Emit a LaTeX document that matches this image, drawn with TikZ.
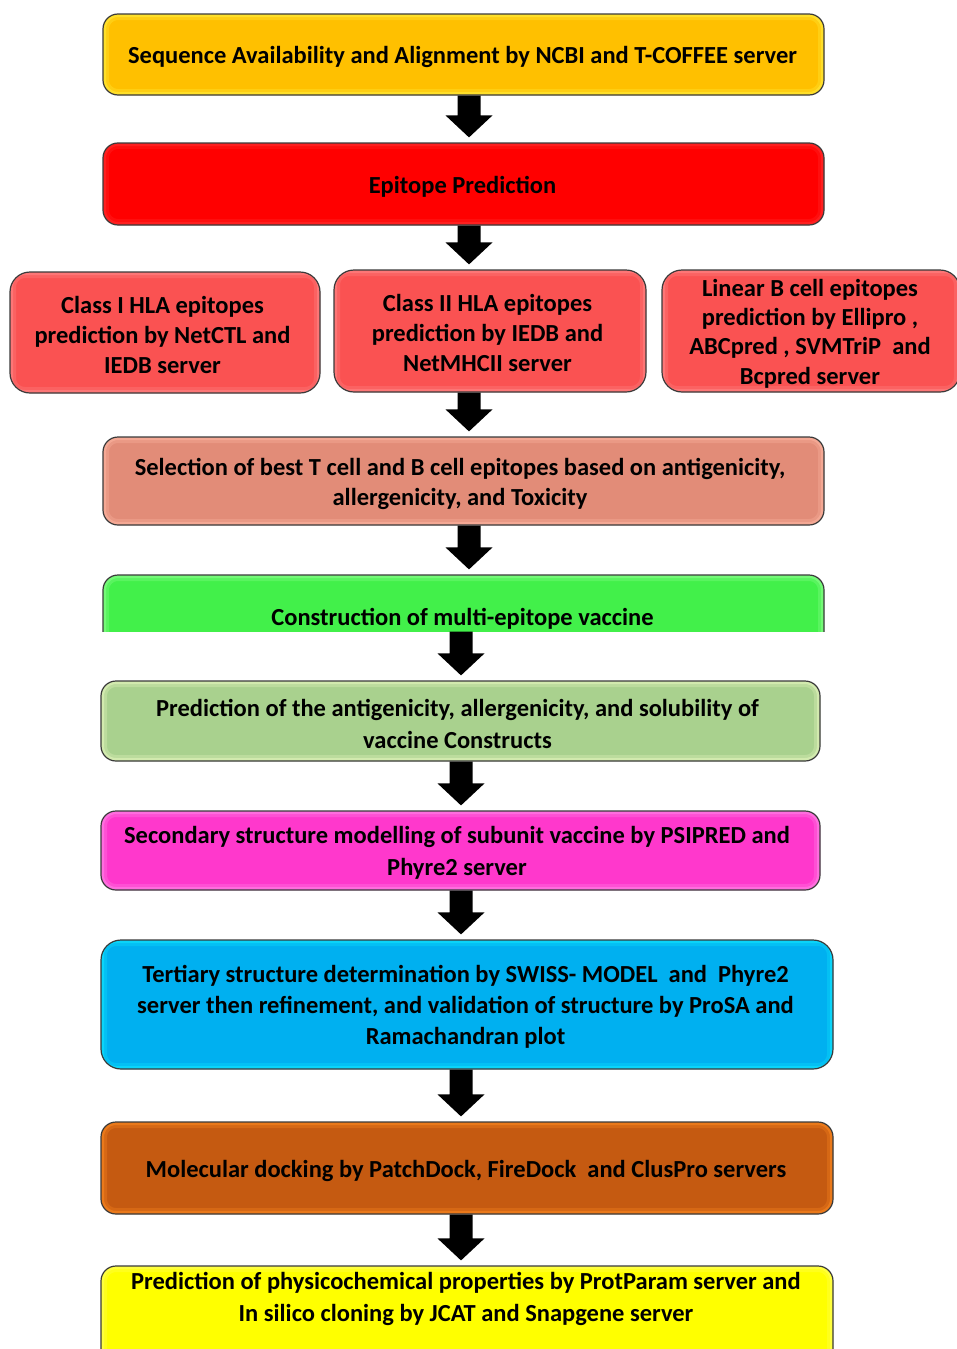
\documentclass[tikz,border=0pt]{standalone}
\usepackage{fontspec}
\setmainfont{Carlito}
\usetikzlibrary{calc}
\definecolor{edge}{HTML}{3A3A3A}
\definecolor{cgold}{HTML}{FFC000}
\definecolor{ggold}{HTML}{FFF040}
\definecolor{cred}{HTML}{FF0000}
\definecolor{gred}{HTML}{FF3030}
\definecolor{clred}{HTML}{FA5252}
\definecolor{glred}{HTML}{FF8A8A}
\definecolor{csalmon}{HTML}{E28C78}
\definecolor{gsalmon}{HTML}{FFB8A4}
\definecolor{cgreen}{HTML}{42F04A}
\definecolor{ggreen}{HTML}{90FF90}
\definecolor{clgreen}{HTML}{A9D18E}
\definecolor{glgreen}{HTML}{E8F8C0}
\definecolor{cmag}{HTML}{FF38CC}
\definecolor{gmag}{HTML}{FF8AE8}
\definecolor{cblue}{HTML}{00B0F0}
\definecolor{gblue}{HTML}{10E8FF}
\definecolor{cbrown}{HTML}{C55A11}
\definecolor{gbrown}{HTML}{FF8A20}
\definecolor{cyellow}{HTML}{FFFF00}
\definecolor{gyellow}{HTML}{FFFF60}
\newcommand\flowarrow[3]{%
  \fill[black] ($(#2 -| #1)+(-11.5pt,0)$) -- ($(#2 -| #1)+(11.5pt,0)$)
   -- ($(#3 -| #1)+(11.5pt,27pt)$) -- ($(#3 -| #1)+(23.5pt,27pt)$)
   -- ($(#3 -| #1)+(0,5pt)$) -- ($(#3 -| #1)+(-23.5pt,27pt)$)
   -- ($(#3 -| #1)+(-11.5pt,27pt)$) -- cycle;}
\tikzset{
  box/.style={draw=edge, line width=1.2pt, rounded corners=15pt, inner sep=0pt},
  glow/.style={path picture={
    \draw[#1, line width=12pt, opacity=0.3, rounded corners=15pt]
      (path picture bounding box.south west) rectangle (path picture bounding box.north east);
    \draw[#1, line width=6pt, opacity=0.5, rounded corners=15pt]
      (path picture bounding box.south west) rectangle (path picture bounding box.north east);}},
  boxtext/.style={align=center, inner sep=0pt, font=\fontsize{24.5}{30}\selectfont\bfseries},
}
\begin{document}
\begin{tikzpicture}[x=1pt,y=-1pt]
\useasboundingbox (0,0) rectangle (957,1349);
\coordinate (colA) at (469,0);
\coordinate (colB) at (461,0);

% boxes
\node[box, fill=cgold, glow=ggold, minimum width=721pt, minimum height=81pt] (n1) at (463.5,54.5) {};
\node[box, fill=cred, glow=gred, minimum width=721pt, minimum height=82pt] (n2) at (463.5,184) {};
\node[box, fill=clred, glow=glred, rounded corners=20pt, minimum width=310pt, minimum height=121pt] (n3a) at (165,332.5) {};
\node[box, fill=clred, glow=glred, rounded corners=20pt, minimum width=312pt, minimum height=122pt] (n3b) at (490,331) {};
\node[box, fill=clred, glow=glred, rounded corners=20pt, minimum width=298pt, minimum height=122pt] (n3c) at (811,331) {};
\node[box, fill=csalmon, glow=gsalmon, minimum width=721pt, minimum height=88pt] (n4) at (463.5,481) {};
\begin{scope}
  \clip (0,0) rectangle (957,631.5);
  \node[box, fill=cgreen, glow=ggreen, minimum width=721pt, minimum height=90pt] (n5) at (463.5,620) {};
\end{scope}
\coordinate (n5cut) at (463.5,631.5);
\node[box, fill=clgreen, glow=glgreen, minimum width=719pt, minimum height=80pt] (n6) at (460.5,721) {};
\node[box, fill=cmag, glow=gmag, minimum width=719pt, minimum height=79pt] (n7) at (460.5,850.5) {};
\node[box, fill=cblue, glow=gblue, rounded corners=20pt, minimum width=732pt, minimum height=129pt] (n8) at (467,1004.5) {};
\node[box, fill=cbrown, glow=gbrown, minimum width=732pt, minimum height=92pt] (n9) at (467,1168) {};
\node[box, fill=cyellow, glow=gyellow, minimum width=732pt, minimum height=120pt] (n10) at (467,1326) {};

% texts
\node[boxtext] (t1) at (462.5,56.5)
  {Sequence Availability and Alignment by NCBI and T-COFFEE server};
\node[boxtext] (t2) at (462.5,186.5) {Epitope Prediction};
\node[boxtext] (t3a) at (162.5,334.5)
  {Class I HLA epitopes\\prediction by NetCTL and\\IEDB server};
\node[boxtext] (t3b) at (487.5,333)
  {Class II HLA epitopes\\prediction by IEDB and\\NetMHCII server};
\node[boxtext, font=\fontsize{24.5}{29.3}\selectfont\bfseries] (t3c) at (810,333.5)
  {Linear B cell epitopes\\prediction by Ellipro ,\\ABCpred , SVMTriP~ and\\Bcpred server};
\node[boxtext] (t4) at (460,483.5)
  {Selection of best T cell and B cell epitopes based on antigenicity,\\allergenicity, and Toxicity};
\node[boxtext] (t5) at (462.5,619) {Construction of multi-epitope vaccine};
\node[boxtext, font=\fontsize{24.5}{32}\selectfont\bfseries] (t6) at (457.5,723.5)
  {Prediction of the antigenicity, allergenicity, and solubility of\\vaccine Constructs};
\node[boxtext, font=\fontsize{24.5}{32}\selectfont\bfseries] (t7) at (457,852.5)
  {Secondary structure modelling of subunit vaccine by PSIPRED and\\Phyre2 server};
\node[boxtext, font=\fontsize{24.5}{31}\selectfont\bfseries] (t8) at (465.5,1007)
  {Tertiary structure determination by SWISS- MODEL~ and~ Phyre2\\server then refinement, and validation of structure by ProSA and\\Ramachandran plot};
\node[boxtext] (t9) at (466,1171)
  {Molecular docking by PatchDock, FireDock~ and ClusPro servers};
\node[boxtext, font=\fontsize{24.5}{32}\selectfont\bfseries] (t10) at (466,1298.5)
  {Prediction of physicochemical properties by ProtParam server and\\In silico cloning by JCAT and Snapgene server};

% arrows
\flowarrow{colA}{n1.south}{n2.north}
\flowarrow{colA}{n2.south}{n3b.north}
\flowarrow{colA}{n3b.south}{n4.north}
\flowarrow{colA}{n4.south}{n5.north}
\flowarrow{colB}{n5cut}{n6.north}
\flowarrow{colB}{n6.south}{n7.north}
\flowarrow{colB}{n7.south}{n8.north}
\flowarrow{colB}{n8.south}{n9.north}
\flowarrow{colB}{n9.south}{n10.north}
\end{tikzpicture}
\end{document}
